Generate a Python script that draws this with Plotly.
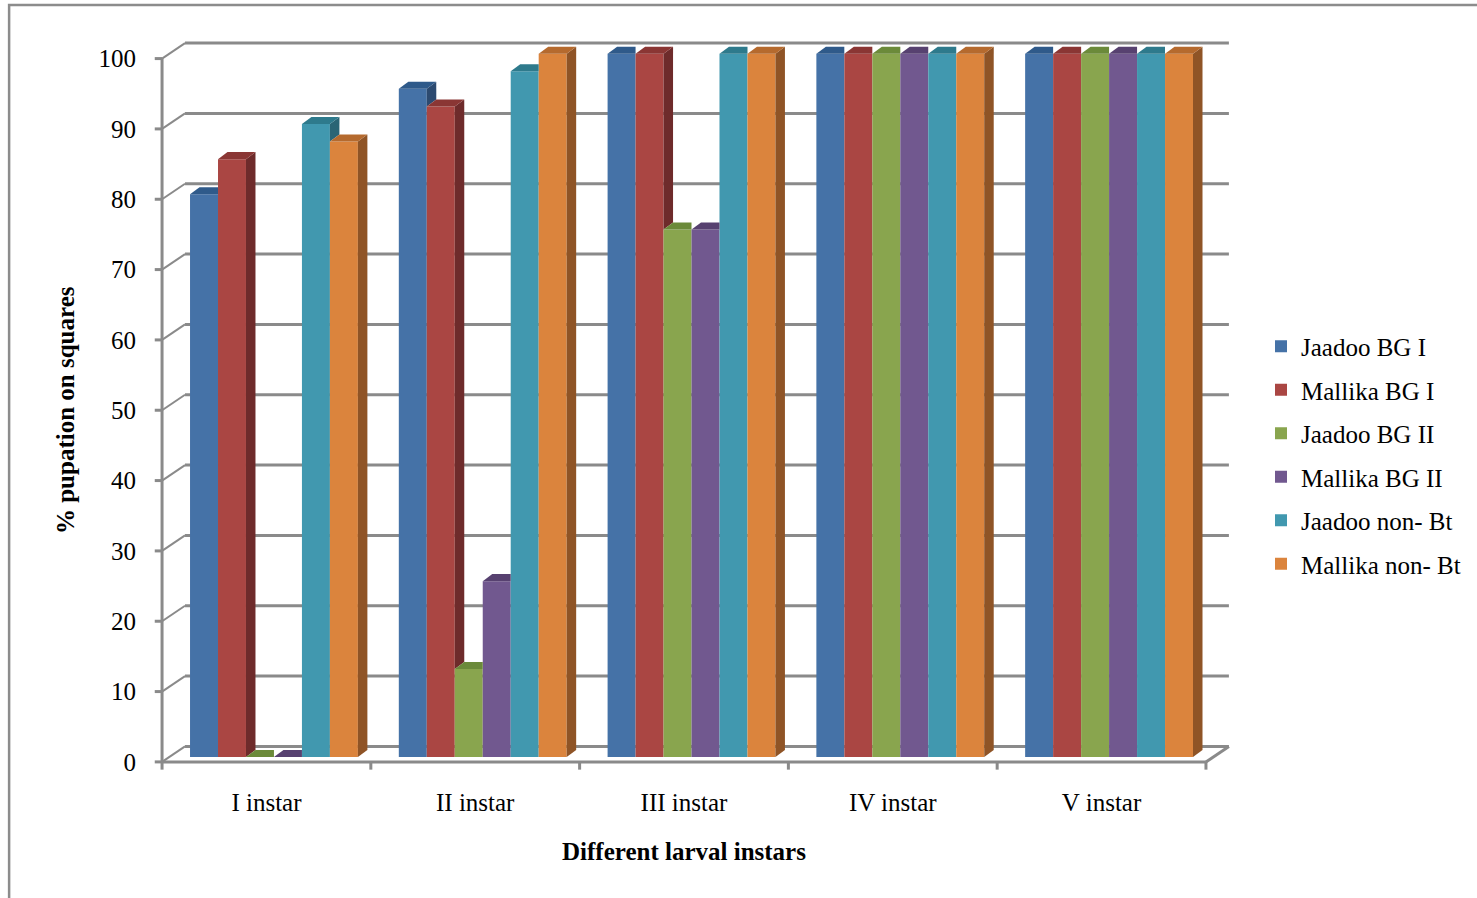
import plotly.graph_objects as go

# ---------------- data ----------------
categories = ["I instar", "II instar", "III instar", "IV instar", "V instar"]
series_names = ["Jaadoo BG I", "Mallika BG I", "Jaadoo BG II", "Mallika BG II",
                "Jaadoo non- Bt", "Mallika non- Bt"]
jaadoo_bg1 = [80, 95, 100, 100, 100]
mallika_bg1 = [85, 92.5, 100, 100, 100]
jaadoo_bg2 = [0, 12.5, 75, 100, 100]
mallika_bg2 = [0, 25, 75, 100, 100]
jaadoo_nonbt = [90, 97.5, 100, 100, 100]
mallika_nonbt = [87.5, 100, 100, 100, 100]
y_ticks = [0, 10, 20, 30, 40, 50, 60, 70, 80, 90, 100]

series_values = [jaadoo_bg1, mallika_bg1, jaadoo_bg2, mallika_bg2, jaadoo_nonbt, mallika_nonbt]

# ---------------- style ----------------
front_colors = ["#4572A7", "#AA4643", "#89A54E", "#71588F", "#4198AF", "#DB843D"]
top_colors = ["#2F5A8A", "#8A3634", "#6B8A3A", "#574170", "#2E7A8C", "#B56A2E"]
side_colors = ["#2C4A70", "#6E2B2B", "#5A7030", "#4A3760", "#2A6575", "#8F5426"]
GRAY = "#8a8a8a"
FONT = "Liberation Serif, Times New Roman, serif"

W, H = 1477, 898
L, R, T, B = 137, 245, 41, 115
XR = [-0.62, 4.62]
YR = [-3, 102.5]

BAR_W = 0.134
GROUP_SHIFT = 0.036
DEPTH_LIFT = 0.7          # bars sit slightly back in the 3D box
SX, SY = 0.0455, 1.0      # bar depth (side / top face)
DX, DY = 0.11, 2.2        # back wall offset
n = len(series_names)

fig = go.Figure()
for i, (name, vals) in enumerate(zip(series_names, series_values)):
    fig.add_trace(go.Bar(
        x=categories, y=vals, name=name, base=DEPTH_LIFT,
        width=BAR_W, offset=-BAR_W * n / 2 + GROUP_SHIFT + i * BAR_W,
        marker=dict(color=front_colors[i], line=dict(width=0)),
        legendgroup=name,
    ))

shapes = []
# back wall grid lines
for v in y_ticks:
    shapes.append(dict(type="line", xref="x", yref="y", layer="below",
                       x0=-0.5 + DX, x1=4.5 + DX, y0=v + DY, y1=v + DY,
                       line=dict(color=GRAY, width=3)))
    # connectors from the front axis to the back wall
    shapes.append(dict(type="line", xref="x", yref="y", layer="below",
                       x0=-0.5, x1=-0.5 + DX, y0=v, y1=v + DY,
                       line=dict(color=GRAY, width=2)))
    # y tick marks
    shapes.append(dict(type="line", xref="x", yref="y",
                       x0=-0.5 - 0.035, x1=-0.5, y0=v, y1=v,
                       line=dict(color=GRAY, width=3)))
# front y axis line
shapes.append(dict(type="line", xref="x", yref="y", x0=-0.5, x1=-0.5, y0=0, y1=100,
                   line=dict(color=GRAY, width=3)))
# front x axis line
shapes.append(dict(type="line", xref="x", yref="y", x0=-0.5, x1=4.5, y0=0, y1=0,
                   line=dict(color=GRAY, width=3)))
# right floor connector
shapes.append(dict(type="line", xref="x", yref="y", layer="below",
                   x0=4.5, x1=4.5 + DX, y0=0, y1=DY, line=dict(color=GRAY, width=3)))
# x tick marks at category boundaries
for k in range(len(categories) + 1):
    shapes.append(dict(type="line", xref="x", yref="y", x0=k - 0.5, x1=k - 0.5,
                       y0=0, y1=-1.1, line=dict(color=GRAY, width=3)))

# 3D faces of bars
for c in range(len(categories)):
    for i in range(n):
        x0 = c - BAR_W * n / 2 + GROUP_SHIFT + i * BAR_W
        x1 = x0 + BAR_W
        top = DEPTH_LIFT + series_values[i][c]
        base = DEPTH_LIFT
        nxt = DEPTH_LIFT + series_values[i + 1][c] if i < n - 1 else None
        if nxt is None or nxt < top:
            bot = base if nxt is None else max(base, nxt)
            shapes.append(dict(type="path", xref="x", yref="y", layer="above",
                               path=f"M{x1},{bot} L{x1},{top} L{x1+SX},{top+SY} L{x1+SX},{bot+SY} Z",
                               fillcolor=side_colors[i], line=dict(width=0)))
            shapes.append(dict(type="path", xref="x", yref="y", layer="above",
                               path=f"M{x0},{top} L{x1},{top} L{x1+SX},{top+SY} L{x0+SX},{top+SY} Z",
                               fillcolor=top_colors[i], line=dict(width=0)))
        else:
            shapes.append(dict(type="path", xref="x", yref="y", layer="above",
                               path=f"M{x0},{top} L{x1},{top} L{x1},{top+SY} L{x0+SX},{top+SY} Z",
                               fillcolor=top_colors[i], line=dict(width=0)))

# outer chart border (paper coords)
pw, ph = W - L - R, H - T - B
def px_to_paper_x(p):
    return (p - L) / pw
def px_to_paper_y(p):
    return (H - B - p) / ph
shapes.append(dict(type="rect", xref="paper", yref="paper",
                   x0=px_to_paper_x(9), x1=px_to_paper_x(1490),
                   y0=px_to_paper_y(910), y1=px_to_paper_y(5),
                   line=dict(color="#8c8c8c", width=2.5), fillcolor="rgba(0,0,0,0)"))

fig.update_layout(
    width=W, height=H, autosize=False,
    margin=dict(l=L, r=R, t=T, b=B, pad=0),
    paper_bgcolor="white", plot_bgcolor="white",
    barmode="overlay",
    font=dict(family=FONT, size=25, color="black"),
    shapes=shapes,
    showlegend=True,
    legend=dict(x=px_to_paper_x(1261), xanchor="left", y=px_to_paper_y(455), yanchor="middle",
                font=dict(family=FONT, size=25, color="black"),
                tracegroupgap=8, bgcolor="rgba(0,0,0,0)"),
    xaxis=dict(range=XR, showgrid=False, showline=False, zeroline=False, ticks="",
               tickfont=dict(family=FONT, size=25), ticklabelstandoff=2),
    yaxis=dict(range=YR, showgrid=False, showline=False, zeroline=False, ticks="",
               tickmode="array", tickvals=y_ticks, ticktext=[str(v) for v in y_ticks],
               tickfont=dict(family=FONT, size=25)),
    annotations=[
        dict(text="<b>Different larval instars</b>", xref="paper", yref="paper",
             x=px_to_paper_x(684), y=px_to_paper_y(852), xanchor="center", yanchor="middle",
             showarrow=False, font=dict(family=FONT, size=25)),
        dict(text="<b>% pupation on squares</b>", xref="paper", yref="paper",
             x=px_to_paper_x(66), y=px_to_paper_y(410), xanchor="center", yanchor="middle",
             textangle=-90, showarrow=False, font=dict(family=FONT, size=25)),
    ],
)

fig.write_html("out.html")
